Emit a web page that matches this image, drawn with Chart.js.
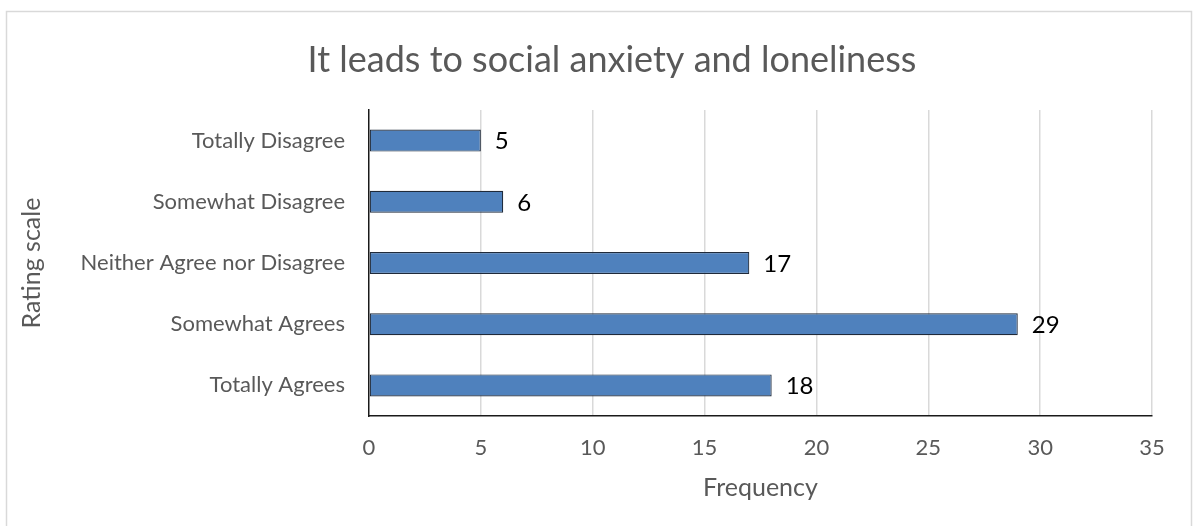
<!DOCTYPE html>
<html>
<head>
<meta charset="utf-8">
<script src="https://cdn.jsdelivr.net/npm/chart.js@4"></script>
<style>
  html, body { margin: 0; padding: 0; background: #fff; }
  #wrap { width: 1198px; height: 526px; }
</style>
</head>
<body>
<div id="wrap"><canvas id="myChart" width="1198" height="526"></canvas></div>
<script>
const categories = ['Totally Disagree', 'Somewhat Disagree', 'Neither Agree nor Disagree', 'Somewhat Agrees', 'Totally Agrees'];
const frequency = [5, 6, 17, 29, 18];
const xTicks = [0, 5, 10, 15, 20, 25, 30, 35];
const chartTitle = 'It leads to social anxiety and loneliness';

const FONT = 'Lato, "Open Sans", sans-serif';
const GREY = '#595959';

// light frame around the whole chart plus the title, centred on the frame
const frame = {
  id: 'frame',
  beforeDraw(chart) {
    const ctx = chart.ctx;
    ctx.save();
    ctx.strokeStyle = '#d9d9d9';
    ctx.lineWidth = 1.5;
    ctx.strokeRect(6.5, 11.5, 1185, 530);
    ctx.font = '36px ' + FONT;
    ctx.fillStyle = GREY;
    ctx.textAlign = 'center';
    ctx.textBaseline = 'middle';
    ctx.fillText(chartTitle, 612, 60);
    ctx.restore();
  }
};

// value printed just right of each bar
const valueLabels = {
  id: 'valueLabels',
  afterDatasetsDraw(chart) {
    const ctx = chart.ctx;
    const meta = chart.getDatasetMeta(0);
    ctx.save();
    ctx.font = '24px ' + FONT;
    ctx.fillStyle = '#000';
    ctx.textAlign = 'left';
    ctx.textBaseline = 'middle';
    meta.data.forEach((bar, i) => {
      ctx.fillText(String(frequency[i]), bar.x + 14, bar.y + 1);
    });
    ctx.restore();
  }
};

const ctx = document.getElementById('myChart').getContext('2d');
new Chart(ctx, {
  type: 'bar',
  data: {
    labels: categories,
    datasets: [{
      data: frequency,
      backgroundColor: '#4f81bd',
      borderColor: '#1f2a3a',
      borderWidth: 1.2,
      borderSkipped: false,
      categoryPercentage: 1,
      barPercentage: 0.36
    }]
  },
  options: {
    indexAxis: 'y',
    responsive: false,
    animation: false,
    devicePixelRatio: 1,
    layout: { padding: { left: 0, right: 46, top: 110, bottom: 0 } },
    plugins: {
      legend: { display: false },
      tooltip: { enabled: false },
      title: { display: false }
    },
    scales: {
      x: {
        min: 0,
        max: 35,
        afterBuildTicks(scale) {
          scale.ticks = xTicks.map(v => ({ value: v }));
        },
        afterFit(scale) { scale.height = 110; },
        grid: {
          color: ctx => ctx.tick && ctx.tick.value === 0 ? 'rgba(0,0,0,0)' : '#d9d9d9',
          lineWidth: 1.5,
          drawTicks: false
        },
        border: { display: true, color: '#1a1a1a', width: 1.5 },
        ticks: {
          color: GREY,
          padding: 19,
          font: { family: FONT, size: 22 }
        },
        title: {
          display: true,
          text: 'Frequency',
          color: GREY,
          font: { family: FONT, size: 25 },
          padding: { top: 8, bottom: 23 }
        }
      },
      y: {
        afterFit(scale) { scale.width = 369; },
        grid: { display: false, drawTicks: false },
        border: { display: true, color: '#1a1a1a', width: 1.5 },
        ticks: {
          color: GREY,
          padding: 24,
          font: { family: FONT, size: 22 }
        },
        title: {
          display: true,
          text: 'Rating scale',
          color: GREY,
          font: { family: FONT, size: 25 },
          padding: { top: 17, bottom: 0 }
        }
      }
    }
  },
  plugins: [frame, valueLabels]
});
</script>
</body>
</html>
